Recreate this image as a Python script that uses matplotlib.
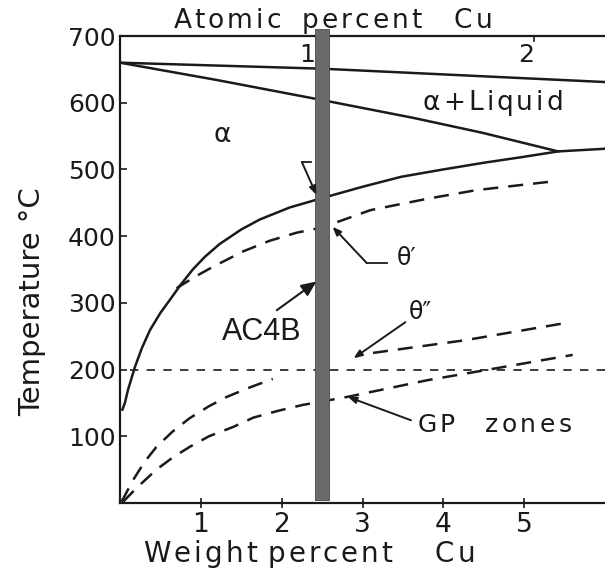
import matplotlib
matplotlib.use("Agg")
import matplotlib.pyplot as plt

# ---- data (wt% Cu, temperature °C) ----
liquidus_x = [0.0, 2.5, 6.0]
liquidus_T = [660, 651, 631]

solidus_x = [0.0, 1.2, 2.5, 3.64, 4.48, 5.42, 6.0]
solidus_T = [660, 634, 604, 577, 555, 527, 531]

solvus_x = [0.03, 0.06, 0.1, 0.185, 0.27, 0.37, 0.5, 0.62, 0.75, 0.9, 1.05, 1.23, 1.5,
            1.73, 2.1, 2.5, 3.0, 3.48, 4.0, 4.5, 5.0, 5.42]
solvus_T = [140, 150, 170, 204, 232, 259, 285, 305, 327, 350, 369, 388, 410,
            425, 443, 457, 474, 489, 500, 510, 519, 527]

theta1_x = [0.7, 0.82, 1.0, 1.15, 1.52, 1.85, 2.18, 2.5, 3.1, 3.8, 4.41, 5.35]
theta1_T = [322, 331, 344, 354, 377, 393, 405, 413, 439, 456, 469, 482]

theta2_left_x = [0.02, 0.16, 0.3, 0.45, 0.65, 0.86, 1.1, 1.32, 1.6, 1.89]
theta2_left_T = [2, 34, 61, 84, 107, 127, 145, 159, 173, 186]
theta2_right_x = [3.13, 4.27, 5.57]
theta2_right_T = [225, 244, 271]

gp_x = [0.04, 0.2, 0.45, 0.65, 0.86, 1.1, 1.4, 1.65, 1.95, 2.26, 2.81, 3.8, 4.75, 5.6]
gp_T = [2, 22, 50, 68, 84, 100, 114, 128, 138, 147, 159, 184, 204, 222]

aging_T = 200
alloy_wt = 2.5          # AC4B composition
alloy_label = "AC4B"

y_ticks = [100, 200, 300, 400, 500, 600, 700]
x_ticks = [1, 2, 3, 4, 5]
top_ticks_wt = [2.42, 5.12]
top_labels = ["1", "2"]

W, H = 605, 569
fig = plt.figure(figsize=(W/100, H/100), dpi=100)
ax = fig.add_axes([120/W, 1-503/H, 1-120/W, 467/H])
ax.set_xlim(0, 6.0)
ax.set_ylim(0, 700)

ink = "#1a1a1a"
for s in ["left", "bottom", "top"]:
    ax.spines[s].set_linewidth(1.6)
    ax.spines[s].set_color(ink)
ax.spines["right"].set_visible(False)

ax.set_yticks(y_ticks)
ax.set_xticks(x_ticks)
ax.tick_params(axis="y", direction="in", length=5, width=1.2, labelsize=18, pad=3, colors=ink)
ax.tick_params(axis="x", direction="inout", length=7, width=1.2, labelsize=19, pad=3, colors=ink)

# alloy bar
ax.bar([alloy_wt], [706], width=0.17, bottom=4, color="#6a6a6a", edgecolor="#4a4a4a",
       linewidth=0.6, clip_on=False, zorder=3)

lw = 1.8
ax.plot(liquidus_x, liquidus_T, color=ink, lw=lw, zorder=2)
ax.plot(solidus_x, solidus_T, color=ink, lw=lw, zorder=2)
ax.plot(solvus_x, solvus_T, color=ink, lw=lw, zorder=2)
dash = (0, (6, 4))
ax.plot(theta1_x, theta1_T, color=ink, lw=lw, ls=dash, zorder=2)
ax.plot(theta2_left_x, theta2_left_T, color=ink, lw=lw, ls=dash, zorder=2)
ax.plot(theta2_right_x, theta2_right_T, color=ink, lw=lw, ls=dash, zorder=2)
ax.plot(gp_x, gp_T, color=ink, lw=lw, ls=dash, zorder=2)
ax.plot([0.12, 6.0], [aging_T, aging_T], color=ink, lw=1.2, ls=(0, (5, 5)), zorder=2)

# top (atomic percent) ticks
for xt, lab in zip(top_ticks_wt, top_labels):
    ax.text(xt - 0.1, 672, lab, fontsize=18, ha="center", va="center", color=ink)
    ax.plot([xt, xt], [700, 692], color=ink, lw=1.2)

renderer = fig.canvas.get_renderer()

def tracked(word, xc, y_base, size, extra=3.0):
    """Place a word centred at pixel column xc, baseline y_base (px from top), with letter spacing."""
    widths = []
    for ch in word:
        t = fig.text(0, 0, ch, fontsize=size)
        widths.append(t.get_window_extent(renderer).width)
        t.remove()
    total = sum(widths) + extra * (len(word) - 1)
    x = xc - total / 2
    for ch, w in zip(word, widths):
        fig.text((x + w/2)/W, 1 - y_base/H, ch, fontsize=size, ha="center",
                 va="baseline", color=ink)
        x += w + extra

tracked("Atomic", 227, 28, 19)
tracked("percent", 362, 28, 19)
tracked("Cu", 473, 28, 19)
tracked("Weight", 200, 562, 20)
tracked("percent", 330, 562, 20)
tracked("Cu", 455, 562, 20)
tracked("α+Liquid", 493, 110, 19)
tracked("GP", 436, 432, 18)
tracked("zones", 528, 432, 18, extra=3.5)

fig.text(32/W, 1-302/H, "Temperature °C", fontsize=21, rotation=90, ha="center",
         va="center", color=ink)

ax.text(1.27, 552, "α", fontsize=19, ha="center", va="center", color=ink)
ax.text(3.55, 367, "θ′", fontsize=17, ha="center", va="center", color=ink)
ax.text(3.72, 286, "θ″", fontsize=17, ha="center", va="center", color=ink)
ax.text(1.75, 257, alloy_label, fontsize=22, ha="center", va="center", color=ink,
        family="Liberation Sans")

arrow_kw = dict(arrowstyle="-|>,head_length=0.5,head_width=0.2", color=ink, lw=1.4,
                shrinkA=0, shrinkB=0)
# solvus pointer with hook
ax.plot([2.25, 2.36], [511, 511], color=ink, lw=1.3)
ax.annotate("", xy=(2.43, 462), xytext=(2.25, 511), arrowprops=arrow_kw)
# theta' pointer with bend
ax.plot([3.3, 3.05], [360, 360], color=ink, lw=1.3)
ax.annotate("", xy=(2.63, 414), xytext=(3.05, 360), arrowprops=arrow_kw)
# theta'' pointer
ax.annotate("", xy=(2.89, 217), xytext=(3.53, 271), arrowprops=arrow_kw)
# GP pointer
ax.annotate("", xy=(2.82, 159), xytext=(3.6, 124), arrowprops=arrow_kw)
# AC4B pointer
ax.annotate("", xy=(2.43, 332), xytext=(1.94, 289),
            arrowprops=dict(arrowstyle="-|>,head_length=0.9,head_width=0.4", color=ink, lw=1.5,
                            shrinkA=0, shrinkB=0), zorder=4)

fig.savefig("out.png", dpi=100)
